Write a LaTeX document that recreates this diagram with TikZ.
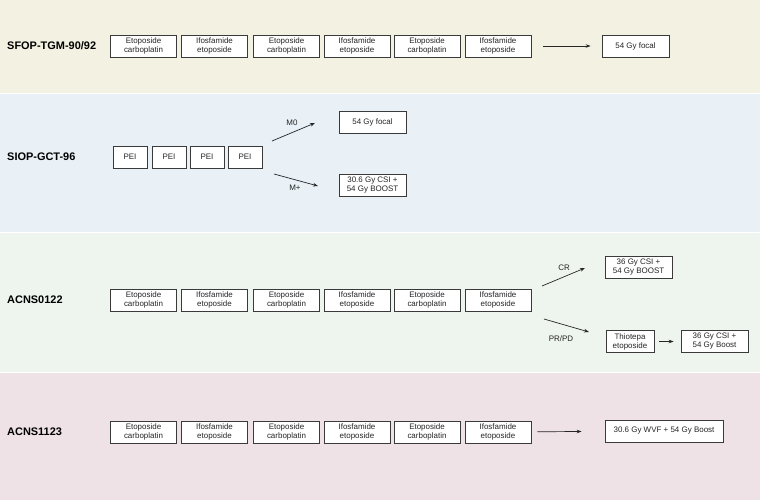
\documentclass[tikz,border=0pt]{standalone}
\usepackage{fontspec}
\setmainfont{Liberation Sans}
\usetikzlibrary{arrows.meta}
\definecolor{bandA}{HTML}{F3F2E2}
\definecolor{bandB}{HTML}{E9F1F7}
\definecolor{bandC}{HTML}{EEF4EE}
\definecolor{bandD}{HTML}{EEE2E7}
\definecolor{edge}{HTML}{3A3A3A}
\begin{document}
\begin{tikzpicture}[x=1bp,y=-1bp,
  box/.style={draw=edge, fill=white, line width=0.8bp, minimum height=22bp, inner sep=0pt,
    align=center, font=\fontsize{8}{9}\selectfont, text=black!85},
  chemo/.style={box, minimum width=66bp},
  pei/.style={box, minimum width=34bp},
  lab/.style={anchor=west, font=\fontsize{11}{13}\selectfont\bfseries, inner sep=0pt},
  arlab/.style={font=\fontsize{8}{9}\selectfont, inner sep=0pt, text=black!85},
  arr/.style={-{Stealth[length=5bp,width=3.6bp]}, line width=0.7bp, draw=black!85}]
\useasboundingbox (0,0) rectangle (760,500);
% bands
\fill[bandA] (0,0) rectangle (760,93);
\fill[bandB] (0,94) rectangle (760,232);
\fill[bandC] (0,233) rectangle (760,372);
\fill[bandD] (0,373) rectangle (760,500);

% Row 1
\node[lab] (l1) at (7,46) {SFOP-TGM-90/92};
\node[chemo] (a1) at (143.5,46) {Etoposide\\carboplatin};
\node[chemo] (a2) at (214.5,46) {Ifosfamide\\etoposide};
\node[chemo] (a3) at (286.5,46) {Etoposide\\carboplatin};
\node[chemo] (a4) at (357,46) {Ifosfamide\\etoposide};
\node[chemo] (a5) at (427,46) {Etoposide\\carboplatin};
\node[chemo] (a6) at (498,46) {Ifosfamide\\etoposide};
\node[box, minimum width=67bp] (af) at (635.5,46) {54 Gy focal};
\draw[arr, shorten <=12bp, shorten >=11bp] (a6) -- (af);

% Row 2
\node[lab] (l2) at (7,157) {SIOP-GCT-96};
\node[pei] (p1) at (130,157) {PEI};
\node[pei] (p2) at (169,157) {PEI};
\node[pei] (p3) at (207,157) {PEI};
\node[pei] (p4) at (245,157) {PEI};
\node[box, minimum width=67bp] (pf) at (372.5,122) {54 Gy focal};
\node[box, minimum width=67bp] (pc) at (372.5,185) {30.6 Gy CSI +\\54 Gy BOOST};
\coordinate (m0s) at (272,141);
\coordinate (m0e) at (315,123);
\coordinate (mps) at (274,174);
\coordinate (mpe) at (318,186);
\draw[arr] (m0s) -- (m0e);
\draw[arr] (mps) -- (mpe);
\node[arlab] (m0) at (292,123) {M0};
\node[arlab] (mp) at (295,188) {M+};

% Row 3
\node[lab] (l3) at (7,300) {ACNS0122};
\node[chemo] (c1) at (143.5,300) {Etoposide\\carboplatin};
\node[chemo] (c2) at (214.5,300) {Ifosfamide\\etoposide};
\node[chemo] (c3) at (286.5,300) {Etoposide\\carboplatin};
\node[chemo] (c4) at (357,300) {Ifosfamide\\etoposide};
\node[chemo] (c5) at (427,300) {Etoposide\\carboplatin};
\node[chemo] (c6) at (498,300) {Ifosfamide\\etoposide};
\node[box, minimum width=67bp] (cr) at (638.5,267) {36 Gy CSI +\\54 Gy BOOST};
\node[box, minimum width=48bp] (th) at (630,341.5) {Thiotepa\\etoposide};
\node[box, minimum width=67bp] (cb) at (714.5,341.5) {36 Gy CSI +\\54 Gy Boost};
\coordinate (crs) at (542,286);
\coordinate (cre) at (585,268);
\coordinate (pps) at (544,319);
\coordinate (ppe) at (589,332);
\draw[arr] (crs) -- (cre);
\draw[arr] (pps) -- (ppe);
\draw[arr, shorten <=5bp, shorten >=7bp] (th) -- (cb);
\node[arlab] (crl) at (564,268) {CR};
\node[arlab] (ppl) at (561,339) {PR/PD};

% Row 4
\node[lab] (l4) at (7,432) {ACNS1123};
\node[chemo] (d1) at (143.5,432) {Etoposide\\carboplatin};
\node[chemo] (d2) at (214.5,432) {Ifosfamide\\etoposide};
\node[chemo] (d3) at (286.5,432) {Etoposide\\carboplatin};
\node[chemo] (d4) at (357,432) {Ifosfamide\\etoposide};
\node[chemo] (d5) at (427,432) {Etoposide\\carboplatin};
\node[chemo] (d6) at (498,432) {Ifosfamide\\etoposide};
\node[box, minimum width=118bp] (df) at (664,431) {30.6 Gy WVF + 54 Gy Boost};
\draw[arr, shorten <=6bp, shorten >=23bp] (d6) -- (df);
\end{tikzpicture}
\end{document}
